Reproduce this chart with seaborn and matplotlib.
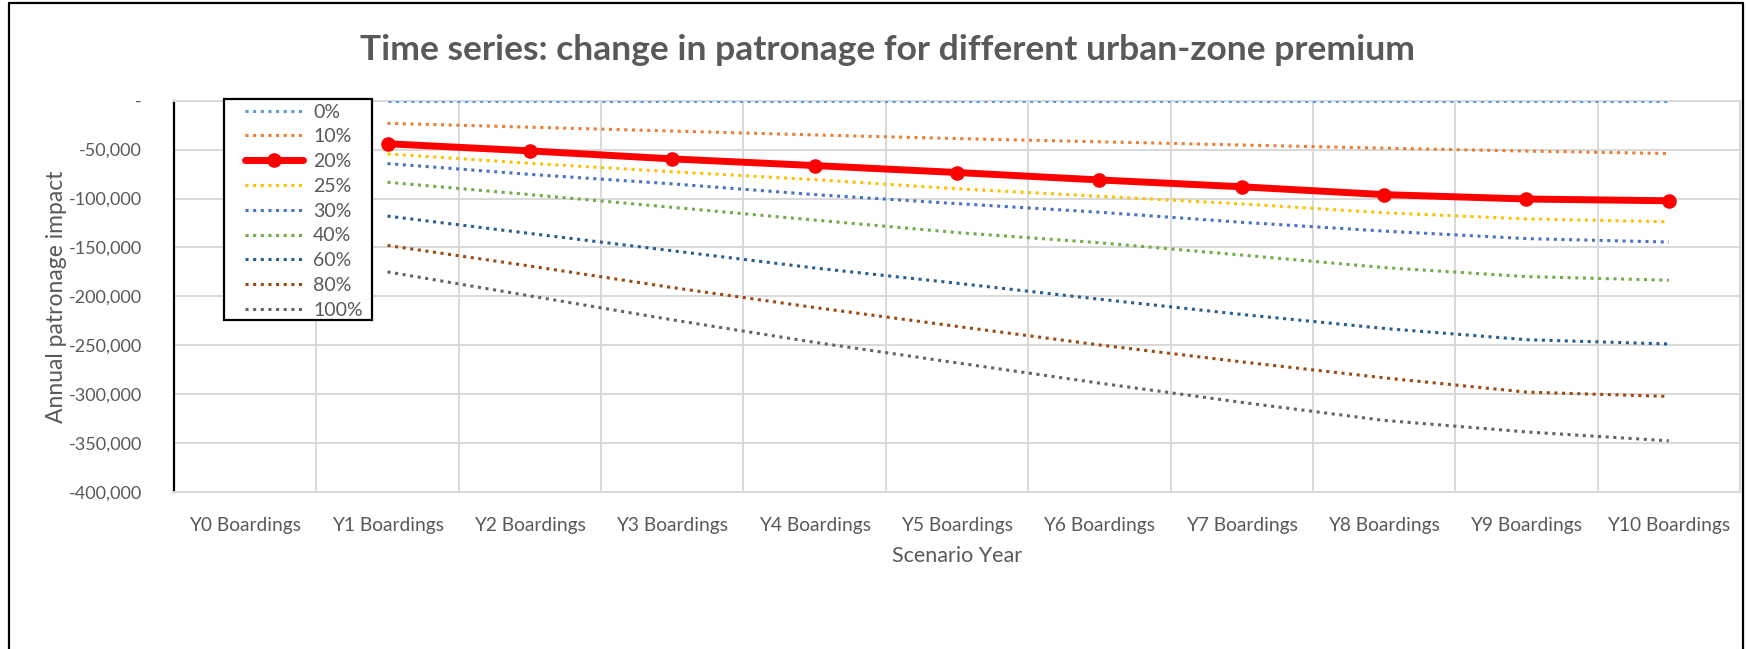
import numpy as np
import pandas as pd
import matplotlib
matplotlib.use('Agg')
import matplotlib.pyplot as plt
import seaborn as sns
from matplotlib.ticker import FuncFormatter, FixedLocator
from matplotlib.lines import Line2D
from matplotlib.patches import Rectangle

# category axis (Y0 has no data, series start at Y1)
categories = ['Y0 Boardings', 'Y1 Boardings', 'Y2 Boardings', 'Y3 Boardings',
              'Y4 Boardings', 'Y5 Boardings', 'Y6 Boardings', 'Y7 Boardings',
              'Y8 Boardings', 'Y9 Boardings', 'Y10 Boardings']
data_years = categories[1:]

premiums = ['0%', '10%', '20%', '25%', '30%', '40%', '60%', '80%', '100%']

p0 = [0, 0, 0, 0, 0, 0, 0, 0, 0, 0]
p10 = [-23100, -27100, -31000, -35000, -38700, -42000, -45300, -48500, -51500, -54000]
p20 = [-44000, -51300, -59500, -66300, -73400, -81000, -88000, -96000, -100500, -102300]
p25 = [-54400, -64000, -72600, -80700, -90000, -97700, -105500, -114600, -120800, -123800]
p30 = [-64300, -75300, -85000, -96000, -105200, -114000, -124300, -133300, -141000, -144500]
p40 = [-83400, -96000, -109000, -122000, -134800, -145200, -157800, -170600, -179800, -183500]
p60 = [-118000, -135700, -153400, -171000, -186600, -202900, -218500, -232800, -244300, -248700]
p80 = [-148000, -169000, -191000, -211400, -230700, -249700, -267000, -283300, -297900, -302300]
p100 = [-175000, -199500, -224000, -247000, -268000, -288700, -308400, -326800, -338600, -347700]

series = [p0, p10, p20, p25, p30, p40, p60, p80, p100]
colors = ['#5B9BD5', '#ED7D31', '#FF0000', '#FFC000', '#4472C4',
          '#70AD47', '#255E91', '#9E480E', '#636363']

rows = []
for name, vals in zip(premiums, series):
    for yr, v in zip(data_years, vals):
        rows.append({'premium': name, 'year': yr,
                     'pos': categories.index(yr), 'impact': v})
df = pd.DataFrame(rows)

sns.set_theme(style='white')
plt.rcParams['font.family'] = ['Lato', 'DejaVu Sans']
txt = '#595959'
grid_c = '#D9D9D9'

W, H = 1746, 649
fig = plt.figure(figsize=(W / 100, H / 100), dpi=100)
ax = fig.add_axes([174 / W, 1 - 492 / H, 1566 / W, 391.3 / H])

for name, c in zip(premiums, colors):
    sub = df[df['premium'] == name]
    if name == '20%':
        sns.lineplot(data=sub, x='pos', y='impact', ax=ax, color=c, lw=5,
                     marker='o', markersize=10.5, markeredgewidth=0,
                     label=name, sort=False, zorder=4)
    else:
        sns.lineplot(data=sub, x='pos', y='impact', ax=ax, color=c, lw=2.2,
                     linestyle=(0, (1, 1.5)), label=name, sort=False, zorder=3)

ax.set_xlim(-0.5, len(categories) - 0.5)
ax.set_ylim(-400000, 0)
ax.set_xticks(range(len(categories)))
ax.set_xticklabels(categories)
ax.xaxis.set_minor_locator(FixedLocator(np.arange(-0.5, len(categories), 1)))
ax.set_yticks(np.arange(-400000, 1, 50000))
ax.yaxis.set_major_formatter(FuncFormatter(lambda v, p: '-' if v == 0 else f'-{abs(v):,.0f}'))

ax.grid(axis='y', which='major', color=grid_c, lw=1.4)
ax.grid(axis='x', which='minor', color=grid_c, lw=1.4)
ax.grid(axis='x', which='major', visible=False)
ax.set_axisbelow(True)
ax.tick_params(axis='both', which='both', length=0, colors=txt)
ax.tick_params(axis='x', pad=18, labelsize=13.8)
ax.tick_params(axis='y', pad=23, labelsize=13)

for s in ['top', 'right', 'bottom']:
    ax.spines[s].set_color(grid_c)
    ax.spines[s].set_linewidth(1.4)
ax.spines['left'].set_color('black')
ax.spines['left'].set_linewidth(1.6)

ax.set_xlabel('Scenario Year', color=txt, fontsize=15.5, labelpad=8.5)
ax.set_ylabel('Annual patronage impact', color=txt, fontsize=16.5, labelpad=1.5)

fig.text(887 / W, 1 - 50 / H,
         'Time series: change in patronage for different urban-zone premium',
         ha='center', va='center', fontsize=25.5, fontweight='bold', color=txt)

# legend box drawn separately so the padding matches the original
ax.add_patch(Rectangle((224 / W, 1 - 320 / H), 148 / W, 221 / H,
                       transform=fig.transFigure, facecolor='white',
                       edgecolor='black', lw=1.6, clip_on=False, zorder=4.5))
leg = ax.legend(loc='upper left', bbox_to_anchor=(245 / W, 1 - 103.5 / H),
                bbox_transform=fig.transFigure, frameon=False, fontsize=14,
                handlelength=3.0, labelspacing=0.4, borderpad=0,
                handletextpad=0.5, borderaxespad=0)
leg.set_zorder(6)
for t in leg.get_texts():
    t.set_color(txt)

# chart-area border
for xs, ys in [([9 / W, 9 / W], [0, 1 - 3 / H]),
               ([9 / W, 1743 / W], [1 - 3 / H, 1 - 3 / H]),
               ([1743 / W, 1743 / W], [0, 1 - 3 / H])]:
    fig.add_artist(Line2D(xs, ys, color='black', lw=1.6, transform=fig.transFigure))

fig.savefig('out.png', dpi=100)
